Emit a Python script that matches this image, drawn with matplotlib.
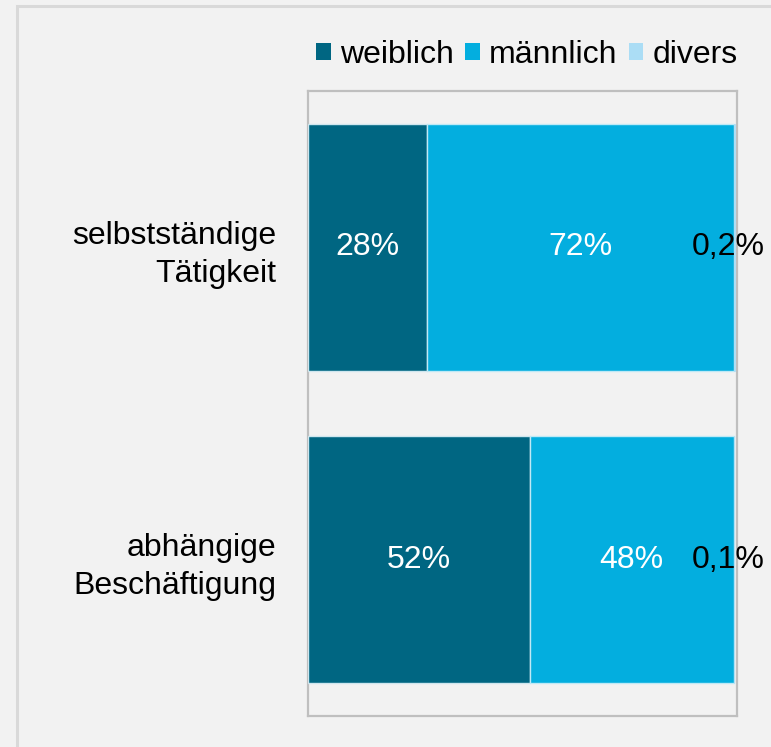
import matplotlib
matplotlib.use("Agg")
import matplotlib.pyplot as plt
from matplotlib.patches import Patch, Rectangle

plt.rcParams['font.family'] = ['Liberation Sans', 'DejaVu Sans']

categories = ["selbstständige\nTätigkeit", "abhängige\nBeschäftigung"]
series_names = ["weiblich", "männlich", "divers"]
weiblich = [28, 52]
maennlich = [72, 48]
divers = [0.2, 0.1]
labels_w = ["28%", "52%"]
labels_m = ["72%", "48%"]
labels_d = ["0,2%", "0,1%"]
colors = ["#006682", "#03AEDF", "#ABDDF5"]

W, H = 771, 747
fig = plt.figure(figsize=(W / 100, H / 100), dpi=100)
fig.patch.set_facecolor("#f2f2f2")

# outer frame
fig.add_artist(Rectangle((17 / W, -0.5), 2, 0.5 + 1 - 6 / H, transform=fig.transFigure,
                         fill=False, edgecolor="#d9d9d9", linewidth=2.2))

ax = fig.add_axes([308 / W, 1 - 716 / H, (737 - 308) / W, (716 - 91) / H])
ax.set_facecolor("#f2f2f2")

y = list(range(len(categories)))
bh = 0.79
ax.barh(y, weiblich, height=bh, color=colors[0], edgecolor="#cfe6ee", linewidth=1.0, label=series_names[0])
ax.barh(y, maennlich, left=weiblich, height=bh, color=colors[1], edgecolor="#bfe9f6", linewidth=1.0, label=series_names[1])
left3 = [a + b for a, b in zip(weiblich, maennlich)]
ax.barh(y, divers, left=left3, height=bh, color=colors[2], edgecolor=colors[2], linewidth=0.5, label=series_names[2])

fs = 23
for i in y:
    ax.text(weiblich[i] / 2, i, labels_w[i], ha="center", va="center", color="white", fontsize=fs)
    ax.text(weiblich[i] + maennlich[i] / 2, i, labels_m[i], ha="center", va="center", color="white", fontsize=fs)
    ax.annotate(labels_d[i], (left3[i] + divers[i], i), xytext=(-4.5, 0), textcoords="offset points",
                ha="center", va="center", color="black", fontsize=fs)

ax.set_xlim(0, 100.7)
ax.set_ylim(1.5, -0.5)
ax.set_yticks(y)
ax.set_yticklabels(categories, fontsize=fs, ha="right", linespacing=1.35)
ax.tick_params(axis="y", length=0, pad=23)
ax.set_xticks([])
for s in ax.spines.values():
    s.set_color("#bfbfbf")
    s.set_linewidth(1.6)
    s.set_zorder(0)

handles = [Patch(facecolor=c, edgecolor="none") for c in colors]
fig.legend(handles, series_names, loc="center", bbox_to_anchor=(527 / W, 1 - 55 / H),
           ncol=3, frameon=False, fontsize=fs, handlelength=0.45, handleheight=0.45,
           handletextpad=0.3, columnspacing=0.35, borderpad=0)

fig.savefig("out.png", dpi=100, facecolor=fig.get_facecolor())
